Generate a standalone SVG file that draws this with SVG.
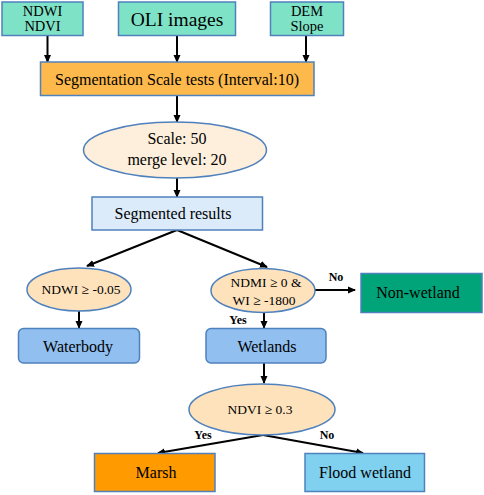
<svg xmlns="http://www.w3.org/2000/svg" width="484" height="495" viewBox="0 0 484 495" font-family="'Liberation Serif', 'Times New Roman', serif">
<defs>
<marker id="ah" markerWidth="8" markerHeight="8" refX="7" refY="4" orient="auto" markerUnits="userSpaceOnUse">
<path d="M0,0.5 L8,4 L0,7.5 Z" fill="#000"/>
</marker>
</defs>
<style>
text{fill:#000;text-anchor:middle}
.n{stroke:#4f81bd;stroke-width:1.5}
.teal{fill:#7ee3c6}
.orange{fill:#fdb94c}
.cream{fill:#fdefdc}
.lblue{fill:#dcebfa}
.dec{fill:#fde2bc}
.blue{fill:#90bff0}
.green{fill:#00a478}
.marsh{fill:#ff9a00}
.sky{fill:#80d0f0}
.c{stroke:#000;stroke-width:2;fill:none}
.lab{font-weight:bold;font-size:12px}
.t{font-size:16px}
.s{font-size:13.5px}
</style>
<g id="connectors">
<line class="c" x1="47.5" y1="36" x2="47.5" y2="62" marker-end="url(#ah)"/>
<line class="c" x1="177" y1="36" x2="177" y2="62" marker-end="url(#ah)"/>
<line class="c" x1="306" y1="36" x2="306" y2="62" marker-end="url(#ah)"/>
<line class="c" x1="177" y1="96" x2="177" y2="122" marker-end="url(#ah)"/>
<line class="c" x1="177" y1="178" x2="177" y2="197" marker-end="url(#ah)"/>
<line class="c" x1="177" y1="230" x2="87" y2="266" marker-end="url(#ah)"/>
<line class="c" x1="177" y1="230" x2="267" y2="267" marker-end="url(#ah)"/>
<line class="c" x1="315" y1="290" x2="355" y2="290" marker-end="url(#ah)"/>
<line class="c" x1="79" y1="311" x2="79" y2="328" marker-end="url(#ah)"/>
<line class="c" x1="264" y1="312" x2="264" y2="328" marker-end="url(#ah)"/>
<line class="c" x1="264" y1="363" x2="264" y2="383" marker-end="url(#ah)"/>
<line class="c" x1="263" y1="435" x2="158" y2="453" marker-end="url(#ah)"/>
<line class="c" x1="263" y1="435" x2="363" y2="453" marker-end="url(#ah)"/>
<text class="lab" x="336" y="281">No</text>
<text class="lab" x="238" y="324">Yes</text>
<text class="lab" x="203" y="439">Yes</text>
<text class="lab" x="327" y="439">No</text>
</g>
<g id="ndwi-ndvi">
<rect class="n teal" x="2" y="2" width="81" height="33.5"/>
<text x="42.5" y="16" font-size="14.5">NDWI</text>
<text x="42.5" y="31" font-size="14.5">NDVI</text>
</g>
<g id="oli">
<rect class="n teal" x="118.5" y="2" width="117" height="33.5"/>
<text x="177" y="26" font-size="19.5">OLI images</text>
</g>
<g id="dem">
<rect class="n teal" x="270.5" y="2" width="73" height="33.5"/>
<text x="307" y="16" font-size="14.5">DEM</text>
<text x="307" y="31" font-size="14.5">Slope</text>
</g>
<g id="seg-tests">
<rect class="n orange" x="40.5" y="62" width="273.5" height="33.5"/>
<text class="t" x="177" y="85">Segmentation Scale tests (Interval:10)</text>
</g>
<g id="scale">
<ellipse class="n cream" cx="175" cy="150" rx="91.5" ry="28"/>
<text class="t" x="177" y="144">Scale: 50</text>
<text class="t" x="177" y="165">merge level: 20</text>
</g>
<g id="segmented">
<rect class="n lblue" x="92" y="197" width="170.5" height="33"/>
<text class="t" x="173" y="219">Segmented results</text>
</g>
<g id="ndwi-test">
<ellipse class="n dec" cx="79" cy="289.5" rx="52" ry="21.5"/>
<text class="s" x="81" y="294">NDWI ≥ -0.05</text>
</g>
<g id="ndmi-test">
<ellipse class="n dec" cx="263" cy="290.5" rx="52" ry="22"/>
<text class="s" x="266" y="287">NDMI ≥ 0 &amp;</text>
<text class="s" x="264" y="305">WI ≥ -1800</text>
</g>
<g id="nonwetland">
<rect class="n green" x="361" y="273.5" width="121" height="39"/>
<text class="t" x="418" y="298">Non-wetland</text>
</g>
<g id="waterbody">
<rect class="n blue" x="18.5" y="328.5" width="121" height="34.5" rx="5"/>
<text class="t" x="78" y="352">Waterbody</text>
</g>
<g id="wetlands">
<rect class="n blue" x="206" y="328.5" width="120" height="34.5" rx="5"/>
<text class="t" x="267" y="352">Wetlands</text>
</g>
<g id="ndvi-test">
<ellipse class="n dec" cx="262" cy="409.5" rx="73" ry="25.5"/>
<text class="s" x="260" y="414">NDVI ≥ 0.3</text>
</g>
<g id="marsh">
<rect class="n marsh" x="94.5" y="453.5" width="120.5" height="38"/>
<text class="t" x="156" y="478">Marsh</text>
</g>
<g id="flood">
<rect class="n sky" x="305" y="453.5" width="119.5" height="38"/>
<text class="t" x="365" y="478">Flood wetland</text>
</g>
</svg>
